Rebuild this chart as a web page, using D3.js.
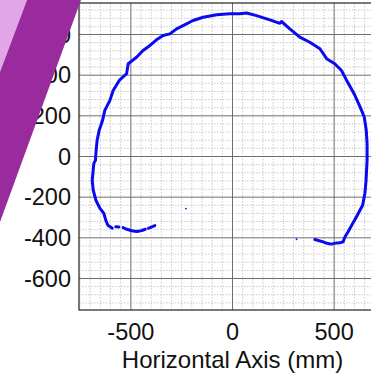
<!DOCTYPE html>
<html>
<head>
<meta charset="utf-8">
<script src="https://cdn.jsdelivr.net/npm/d3@7"></script>
<style>
  body { margin: 0; background: #fff; }
  svg { display: block; font-family: "Liberation Sans", Arial, sans-serif; }
</style>
</head>
<body>
<div id="chart"></div>
<script>
// axis ticks
const xTicks = [-500, 0, 500];
const yTicks = [-600, -400, -200, 0, 200, 400, 600];
const xLabel = "Horizontal Axis (mm)";

// traced outline, mm (null = gap in the trace)
const traceX = [-382, -414, null, -429, -446, null, -456, -472, -495, -520, -538, null, -559, -574, null,
  -591, -613, -623, -633, -652, -672, -685, -690, -682, -674, -672, -666, -656, -639, -628, -603, -587,
  -557, -521, -513, -472, -440, -406, -374, -341, -308, -275, -243, -194, -144, -78, -13, 36, 69, 118,
  168, 184, 233, 241, 282, 331, 380, 430, 463, 503, 536, 566, 598, 628, 648, 658, 662, 662, 657, 651,
  640, 614, 591, 568, 553, 544, 528, 512, 487, 464, 446, 405];
const traceY = [-340, -353, null, -358, -364, null, -366, -369, -365, -358, -350, null, -347, -345, null,
  -353, -338, -314, -279, -255, -215, -166, -117, -34, -19, 14, 79, 128, 178, 227, 276, 325,
  374, 407, 456, 488, 521, 546, 574, 595, 603, 628, 644, 669, 685, 697, 702, 702, 706, 693,
  677, 672, 655, 664, 628, 587, 562, 530, 481, 456, 423, 366, 309, 243, 194, 128, 63, -19, -117, -182,
  -240, -289, -330, -371, -396, -420, -424, -425, -431, -427, -420, -408];

// stray single points
const strayX = [-229, 315];
const strayY = [-256, -407];

const W = 371, H = 376;
const margin = { top: 3, left: 79 };
const plotW = 307, plotH = 307;

const svg = d3.select("#chart").append("svg")
  .attr("width", W).attr("height", H);

const x = d3.scaleLinear().domain([-755, 755]).range([0, plotW]);
const y = d3.scaleLinear().domain([-755, 755]).range([plotH, 0]);

const g = svg.append("g").attr("transform", `translate(${margin.left},${margin.top})`);

// minor grid
const xMinor = d3.range(-750, 751, 50).filter(v => !xTicks.includes(v));
const yMinor = d3.range(-720, 721, 40).filter(v => v % 200 !== 0);

g.selectAll(".xminor").data(xMinor).enter().append("line")
  .attr("x1", d => x(d)).attr("x2", d => x(d))
  .attr("y1", 0).attr("y2", plotH)
  .attr("stroke", "#bdbdbd").attr("stroke-width", 0.8).attr("stroke-dasharray", "1.5,1.5");
g.selectAll(".yminor").data(yMinor).enter().append("line")
  .attr("y1", d => y(d)).attr("y2", d => y(d))
  .attr("x1", 0).attr("x2", plotW)
  .attr("stroke", "#bdbdbd").attr("stroke-width", 0.8).attr("stroke-dasharray", "1.5,1.5");

// major grid
g.selectAll(".xmajor").data(xTicks).enter().append("line")
  .attr("x1", d => x(d)).attr("x2", d => x(d))
  .attr("y1", 0).attr("y2", plotH)
  .attr("stroke", "#6e6e6e").attr("stroke-width", 1);
g.selectAll(".ymajor").data(yTicks).enter().append("line")
  .attr("y1", d => y(d)).attr("y2", d => y(d))
  .attr("x1", 0).attr("x2", plotW)
  .attr("stroke", "#6e6e6e").attr("stroke-width", 1);

// box
g.append("rect").attr("x", 0).attr("y", 0).attr("width", plotW).attr("height", plotH)
  .attr("fill", "none").attr("stroke", "#222").attr("stroke-width", 1.2);

// trace
const pts = traceX.map((v, i) => (v == null ? null : [v, traceY[i]]));
const line = d3.line().defined(d => d != null).x(d => x(d[0])).y(d => y(d[1]));
g.append("path").datum(pts)
  .attr("d", line)
  .attr("fill", "none").attr("stroke", "#0a0af0").attr("stroke-width", 3)
  .attr("stroke-linejoin", "round").attr("stroke-linecap", "round");

g.selectAll(".stray").data(strayX).enter().append("circle")
  .attr("cx", d => x(d)).attr("cy", (d, i) => y(strayY[i])).attr("r", 0.9)
  .attr("fill", "#0a0af0");

// tick labels
svg.selectAll(".xt").data(xTicks).enter().append("text")
  .attr("x", d => margin.left + x(d)).attr("y", 340)
  .attr("text-anchor", "middle").attr("font-size", 23.5).attr("fill", "#111")
  .text(d => d);
svg.selectAll(".yt").data(yTicks).enter().append("text")
  .attr("x", 71).attr("y", d => margin.top + y(d))
  .attr("dy", "0.35em")
  .attr("text-anchor", "end").attr("font-size", 23.5).attr("fill", "#111")
  .text(d => d);

svg.append("text")
  .attr("x", margin.left + x(0)).attr("y", 368)
  .attr("text-anchor", "middle").attr("font-size", 24).attr("fill", "#111")
  .text(xLabel);

// purple corner overlay
svg.append("polygon").attr("points", "0,0 27,0 0,72").attr("fill", "#e0a6e8");
svg.append("polygon").attr("points", "27,0 81,0 0,222 0,72").attr("fill", "#9a2b9e");
</script>
</body>
</html>
